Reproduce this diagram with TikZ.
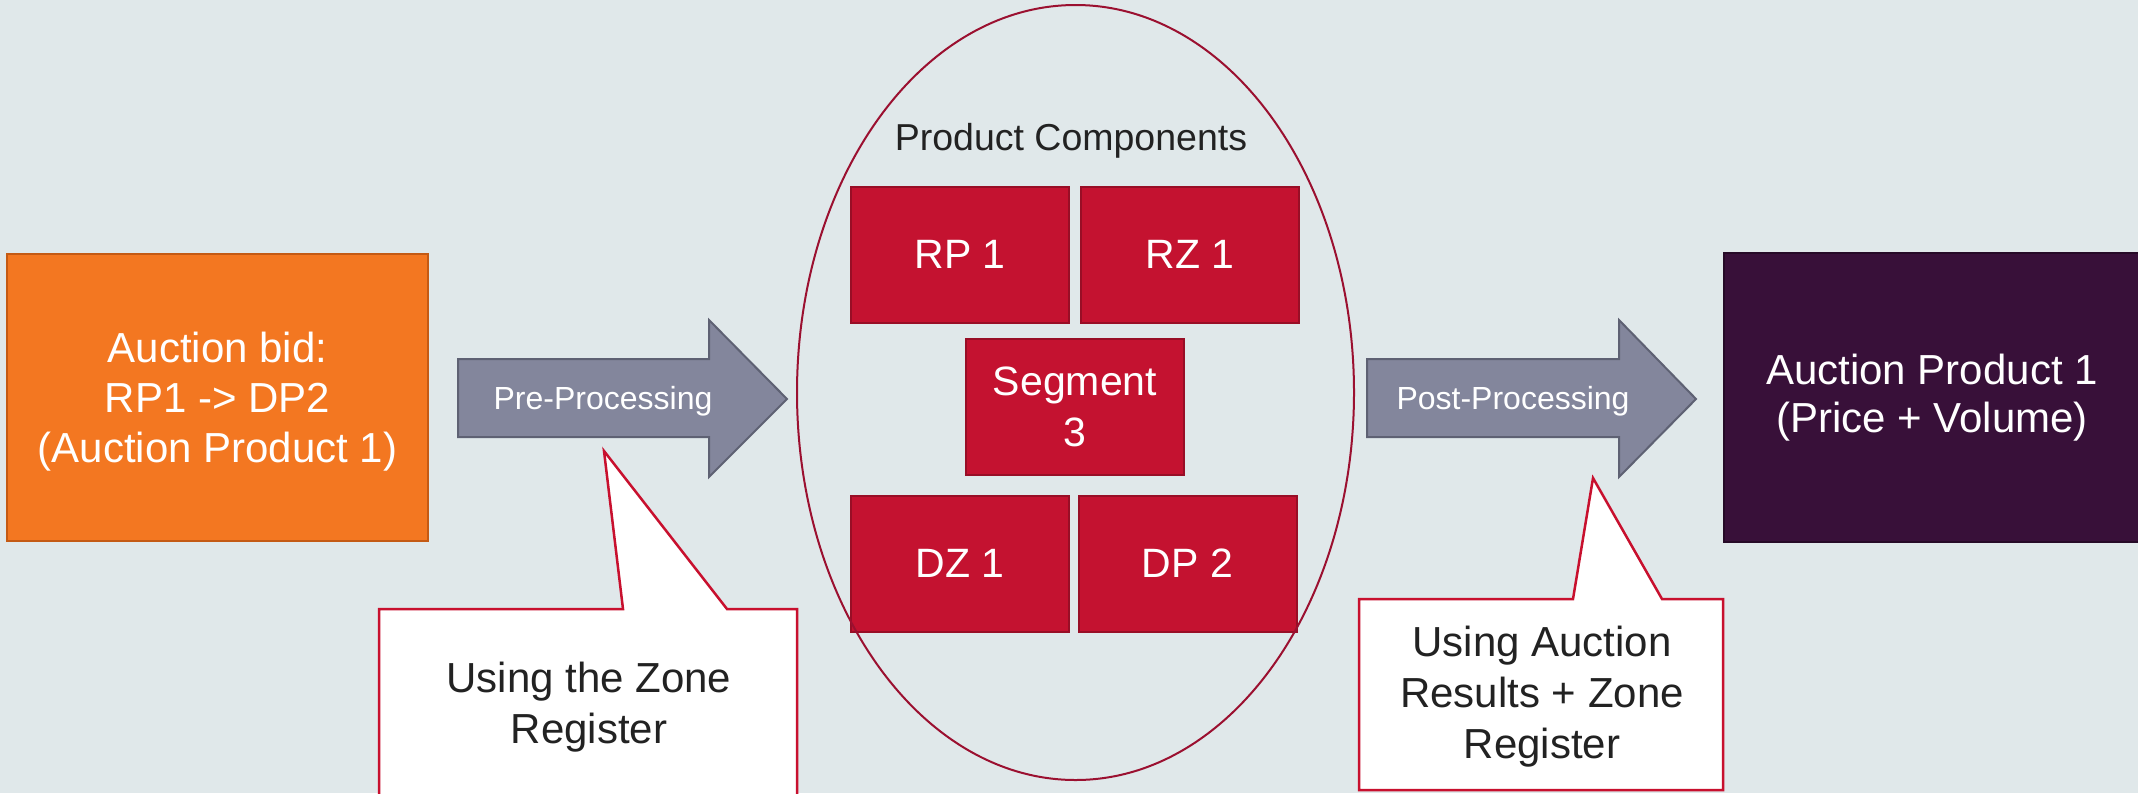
\documentclass[tikz,border=0pt]{standalone}
\usepackage{fontspec}
\setmainfont{Liberation Sans}
\usetikzlibrary{shapes.geometric}
\definecolor{bgc}{HTML}{E0E8EA}
\definecolor{orfill}{HTML}{F37721}
\definecolor{ordraw}{HTML}{C45A14}
\definecolor{arfill}{HTML}{83869C}
\definecolor{ardraw}{HTML}{5E6173}
\definecolor{redfill}{HTML}{C41230}
\definecolor{reddraw}{HTML}{980E26}
\definecolor{elldraw}{HTML}{9B1030}
\definecolor{calldraw}{HTML}{C8102E}
\definecolor{purfill}{HTML}{381039}
\definecolor{purdraw}{HTML}{260A27}
\definecolor{darktext}{HTML}{222222}
\tikzset{
  bigbox/.style={rectangle, inner sep=0pt, line width=2pt, text=white, align=center,
    font=\fontsize{42}{50}\selectfont},
  redbox/.style={rectangle, inner sep=0pt, fill=redfill, draw=reddraw, line width=2pt,
    minimum width=218pt, minimum height=136pt, text=white, align=center,
    font=\fontsize{41}{51}\selectfont},
  blockarrow/.style={fill=arfill, draw=ardraw, line width=2pt, line join=miter},
  arrowtext/.style={text=white, font=\fontsize{32}{38}\selectfont, inner sep=0pt},
  callout/.style={fill=white, draw=calldraw, line width=2.5pt, line join=miter},
  calltext/.style={text=darktext, align=center, font=\fontsize{42}{51}\selectfont, inner sep=0pt},
}
\begin{document}
\begin{tikzpicture}[x=1pt, y=-1pt]
\fill[bgc] (0,0) rectangle (2138,793);
\useasboundingbox (0,0) rectangle (2138,793);

% left orange box
\node[bigbox, fill=orfill, draw=ordraw, minimum width=421pt, minimum height=287pt] (bid) at (217.5,397.5) {};
\node[bigbox, inner sep=0pt] (bidtext) at (217.5,402)
  {Auction bid:\\RP1 -> DP2\\(Auction Product 1)};

% right purple box
\node[bigbox, fill=purfill, draw=purdraw, minimum width=430pt, minimum height=289pt, anchor=west] (prod) at (1723,397.5) {};
\node[bigbox, font=\fontsize{42}{48}\selectfont] (prodtext) at (1932,398) {Auction Product 1\\(Price + Volume)};

% pre-processing arrow
\draw[blockarrow] (458,359) -- (709,359) -- (709,320) -- (787,399) -- (709,477) -- (709,437) -- (458,437) -- cycle;
\node[arrowtext] (pre) at (603,401) {Pre-Processing};

% post-processing arrow
\draw[blockarrow] (1367,359) -- (1619,359) -- (1619,320) -- (1696,399) -- (1619,477) -- (1619,437) -- (1367,437) -- cycle;
\node[arrowtext] (post) at (1513,401) {Post-Processing};

% callouts
\draw[callout] (379,609) -- (623,609) -- (604,451) -- (727,609) -- (797,609) -- (797,805) -- (379,805) -- cycle;
\node[calltext] (call1) at (589,707) {Using the Zone\\Register};

\draw[callout] (1359,599) -- (1573,599) -- (1593,478) -- (1662,599) -- (1723,599) -- (1723,790) -- (1359,790) -- cycle;
\node[calltext] (call2) at (1542,697) {Using Auction\\Results + Zone\\Register};

% product components
\node[text=darktext, font=\fontsize{37.5}{44}\selectfont, inner sep=0pt] (pc) at (1071,141) {Product Components};
\node[redbox] (rp1) at (960,254.5) {RP 1};
\node[redbox] (rz1) at (1190,254.5) {RZ 1};
\node[redbox] (seg) at (1075,406.5) {Segment\\3};
\node[redbox] (dz1) at (960,563.5) {DZ 1};
\node[redbox] (dp2) at (1187.5,563.5) {DP 2};

% ellipse
\node[ellipse, draw=elldraw, line width=2pt, minimum width=557pt, minimum height=775pt, inner sep=0pt] (ell) at (1075.5,392.5) {};
\end{tikzpicture}
\end{document}
